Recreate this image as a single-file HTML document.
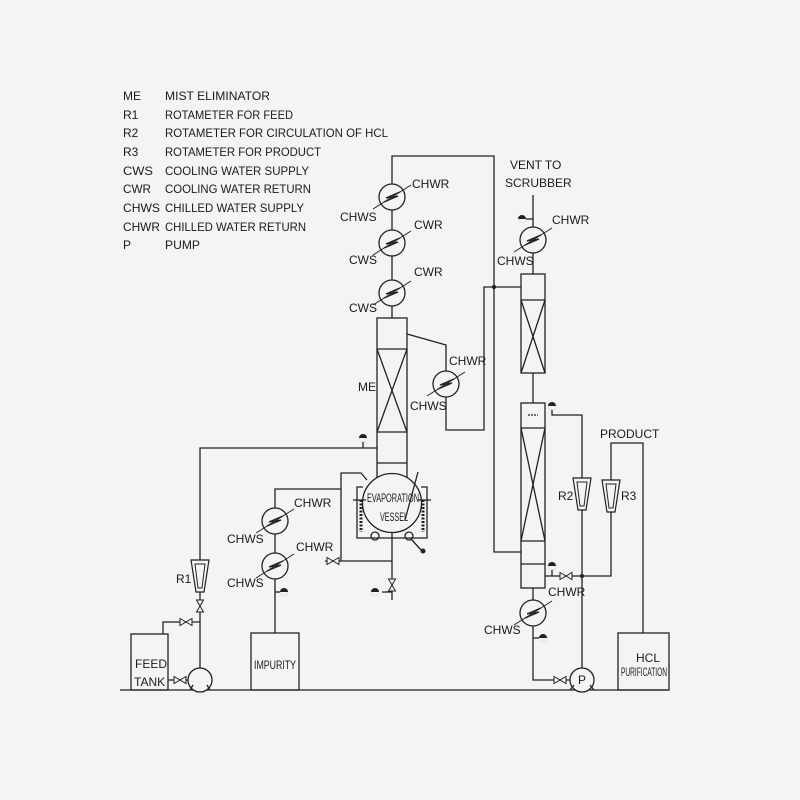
<!DOCTYPE html>
<html><head><meta charset="utf-8"><style>
html,body{margin:0;padding:0;background:#f4f4f4;}
svg{display:block}
text{font-family:"Liberation Sans",sans-serif;font-size:12px;fill:#1a1a1a;}
</style></head><body>
<svg width="800" height="800" viewBox="0 0 800 800" xmlns="http://www.w3.org/2000/svg">
<defs>
<g id="hx"><circle cx="0" cy="0" r="13" fill="#f4f4f4" stroke="#222" stroke-width="1.3"/><path d="M-8 5 L6 -1 L-6 1 L8 -5" fill="none" stroke="#222" stroke-width="1.3"/><line x1="-19" y1="12" x2="19" y2="-12" stroke="#222" stroke-width="1"/></g>
<g id="rot"><path d="M-9 0 H9 L4 32 H-4 Z" fill="#f4f4f4" stroke="#222" stroke-width="1.2"/><path d="M-5 4 H5 L2 28 H-2 Z" fill="none" stroke="#222" stroke-width="1"/></g>
<g id="vh"><path d="M-6 -3.5 L6 3.5 L6 -3.5 L-6 3.5 Z" fill="#f4f4f4" stroke="#222" stroke-width="1"/></g>
<g id="vv"><path d="M-3.5 -6 L3.5 6 L-3.5 6 L3.5 -6 Z" fill="#f4f4f4" stroke="#222" stroke-width="1"/></g>
<g id="ga"><circle r="4" fill="#222"/><path d="M-4 0 A4 4 0 0 0 4 0Z" fill="#f4f4f4"/></g>
</defs>
<rect width="800" height="800" fill="#f4f4f4"/>
<!-- legend -->
<g>
<text x="123" y="100">ME</text><text x="165" y="100" textLength="105" lengthAdjust="spacingAndGlyphs">MIST ELIMINATOR</text>
<text x="123" y="119">R1</text><text x="165" y="119" textLength="128" lengthAdjust="spacingAndGlyphs">ROTAMETER FOR FEED</text>
<text x="123" y="137">R2</text><text x="165" y="137" textLength="223" lengthAdjust="spacingAndGlyphs">ROTAMETER FOR CIRCULATION OF HCL</text>
<text x="123" y="156">R3</text><text x="165" y="156" textLength="156" lengthAdjust="spacingAndGlyphs">ROTAMETER FOR PRODUCT</text>
<text x="123" y="175" textLength="30" lengthAdjust="spacingAndGlyphs">CWS</text><text x="165" y="175" textLength="144" lengthAdjust="spacingAndGlyphs">COOLING WATER SUPPLY</text>
<text x="123" y="193" textLength="28" lengthAdjust="spacingAndGlyphs">CWR</text><text x="165" y="193" textLength="146" lengthAdjust="spacingAndGlyphs">COOLING WATER RETURN</text>
<text x="123" y="212" textLength="37" lengthAdjust="spacingAndGlyphs">CHWS</text><text x="165" y="212" textLength="139" lengthAdjust="spacingAndGlyphs">CHILLED WATER SUPPLY</text>
<text x="123" y="231" textLength="37" lengthAdjust="spacingAndGlyphs">CHWR</text><text x="165" y="231" textLength="141" lengthAdjust="spacingAndGlyphs">CHILLED WATER RETURN</text>
<text x="123" y="249">P</text><text x="165" y="249" textLength="35" lengthAdjust="spacingAndGlyphs">PUMP</text>
</g>
<g stroke="#222" stroke-width="1.3" fill="none">
<line x1="120" y1="690" x2="668" y2="690"/>
<polyline points="392,318 392,156 494,156 494,552 521,552"/>
<circle cx="494" cy="287" r="1.5" fill="#222"/>
<rect x="377" y="318" width="30" height="160"/>
<line x1="377" y1="349" x2="407" y2="349"/><line x1="377" y1="432" x2="407" y2="432"/>
<line x1="377" y1="349" x2="407" y2="432"/><line x1="407" y1="349" x2="377" y2="432"/>
<line x1="377" y1="463" x2="407" y2="463"/>
<polyline points="407,334 446,345 446,430 484,430 484,287 521,287"/>
<circle cx="392" cy="503" r="29.5" fill="#f4f4f4"/>
<polyline points="363,487 357,487 357,538 427,538 427,487 421,487"/>
<line x1="353" y1="500" x2="366" y2="500"/><line x1="418" y1="500" x2="431" y2="500"/>
<line x1="361" y1="500" x2="361" y2="532" stroke-dasharray="2,1.5" stroke-width="3"/>
<line x1="423" y1="500" x2="423" y2="532" stroke-dasharray="2,1.5" stroke-width="3"/>
<circle cx="375" cy="536" r="4"/><circle cx="409" cy="536" r="4"/>
<line x1="411" y1="539" x2="422" y2="551"/>
<line x1="418" y1="472" x2="405" y2="520"/>
<polyline points="377,448 200,448 200,668"/>
<line x1="363" y1="448" x2="363" y2="440"/>
<polyline points="367,480 361,473 341,473 341,561"/>
<polyline points="325,561 392,561"/>
<line x1="392" y1="533" x2="392" y2="600"/>
<line x1="382" y1="592" x2="392" y2="592"/>
<polyline points="341,489 275,489 275,633"/>
<line x1="275" y1="592" x2="281" y2="592"/>
<rect x="131" y="634" width="37" height="56"/>
<rect x="251" y="633" width="48" height="57"/>
<rect x="618" y="633" width="51" height="57"/>
<polyline points="163,634 163,622 200,622"/>
<line x1="168" y1="680" x2="188" y2="680"/>
<circle cx="200" cy="680" r="12" fill="#f4f4f4"/>
<path d="M190 690 L193 685 M210 690 L207 685"/>
<line x1="533" y1="195" x2="533" y2="274"/>
<line x1="522" y1="219" x2="533" y2="219"/>
<rect x="521" y="274" width="24" height="99"/>
<line x1="521" y1="300" x2="545" y2="300"/>
<line x1="521" y1="300" x2="545" y2="373"/><line x1="545" y1="300" x2="521" y2="373"/>
<line x1="533" y1="373" x2="533" y2="403"/>
<rect x="521" y="403" width="24" height="185"/>
<line x1="521" y1="428" x2="545" y2="428"/><line x1="521" y1="541" x2="545" y2="541"/>
<line x1="521" y1="428" x2="545" y2="541"/><line x1="545" y1="428" x2="521" y2="541"/>
<line x1="521" y1="564" x2="545" y2="564"/>
<line x1="528" y1="415" x2="538" y2="415" stroke-dasharray="2,1"/>
<polyline points="552,408 552,415 582,415 582,668"/>
<polyline points="552,568 552,576"/>
<polyline points="545,576 611,576 611,443 643,443 643,633"/>
<circle cx="582" cy="576" r="1.5" fill="#222"/>
<polyline points="533,588 533,680 570,680"/>
<line x1="533" y1="638" x2="539" y2="638"/>
<circle cx="582" cy="680" r="12" fill="#f4f4f4"/>
<path d="M570 690 L574 685 M594 690 L590 685"/>
</g>
<use href="#hx" x="392" y="197"/><use href="#hx" x="392" y="243"/><use href="#hx" x="392" y="293"/>
<use href="#hx" x="446" y="384"/>
<use href="#hx" x="275" y="521"/><use href="#hx" x="275" y="566"/>
<use href="#hx" x="533" y="240"/><use href="#hx" x="533" y="613"/>
<use href="#rot" x="200" y="560"/><use href="#rot" x="582" y="478"/><use href="#rot" x="611" y="480"/>
<use href="#vv" x="200" y="606"/><use href="#vh" x="186" y="622"/><use href="#vh" x="180" y="680"/>
<use href="#vh" x="333" y="561"/><use href="#vv" x="392" y="585"/>
<use href="#vh" x="566" y="576"/><use href="#vh" x="560" y="680"/>
<use href="#ga" x="363" y="438"/><use href="#ga" x="375" y="592"/><use href="#ga" x="284" y="592"/>
<use href="#ga" x="522" y="219"/><use href="#ga" x="552" y="406"/><use href="#ga" x="552" y="566"/><use href="#ga" x="543" y="638"/>
<circle cx="423" cy="551" r="2.5" fill="#222"/>
<text x="412" y="188">CHWR</text><text x="340" y="221">CHWS</text>
<text x="414" y="229">CWR</text><text x="349" y="264">CWS</text>
<text x="414" y="276">CWR</text><text x="349" y="312">CWS</text>
<text x="358" y="391">ME</text>
<text x="449" y="365">CHWR</text><text x="410" y="410">CHWS</text>
<text x="510" y="169">VENT TO</text><text x="505" y="187">SCRUBBER</text>
<text x="552" y="224">CHWR</text><text x="497" y="265">CHWS</text>
<text x="600" y="438">PRODUCT</text>
<text x="558" y="500">R2</text><text x="621" y="500">R3</text>
<text x="548" y="596">CHWR</text><text x="484" y="634">CHWS</text>
<text x="176" y="583">R1</text>
<text x="294" y="507">CHWR</text><text x="227" y="543">CHWS</text>
<text x="296" y="551">CHWR</text><text x="227" y="587">CHWS</text>
<text x="135" y="668" font-size="11">FEED</text><text x="134" y="686" font-size="11">TANK</text>
<text x="254" y="669" font-size="10" textLength="42" lengthAdjust="spacingAndGlyphs">IMPURITY</text>
<text x="636" y="662" font-size="8">HCL</text><text x="621" y="676" font-size="8" textLength="46" lengthAdjust="spacingAndGlyphs">PURIFICATION</text>
<text x="367" y="502" font-size="10" textLength="52" lengthAdjust="spacingAndGlyphs">EVAPORATION</text><text x="380" y="521" font-size="10" textLength="28" lengthAdjust="spacingAndGlyphs">VESSEL</text>
<text x="578" y="684" font-size="10">P</text>
</svg>
</body></html>
